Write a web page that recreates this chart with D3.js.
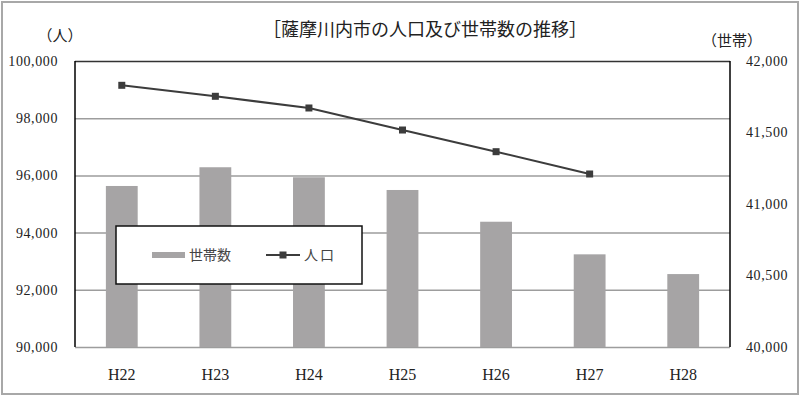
<!DOCTYPE html>
<html>
<head>
<meta charset="utf-8">
<script src="https://cdn.jsdelivr.net/npm/d3@7"></script>
<style>
  body { margin: 0; background: #fff; }
  svg { display: block; }
</style>
</head>
<body>
<div id="chart"></div>
<script>
// data
const categories = ["H22", "H23", "H24", "H25", "H26", "H27", "H28"];
const households = [41126, 41257, 41187, 41098, 40876, 40648, 40510]; // 世帯数 (right axis)
const population = [99150, 98766, 98357, 97587, 96829, 96049, null]; // 人口 (left axis)
const leftTicks = [90000, 92000, 94000, 96000, 98000, 100000];
const rightTicks = [40000, 40500, 41000, 41500, 42000];

const W = 800, H = 395;
const margin = { top: 61, right: 70, bottom: 48, left: 75 };
const numFont = "'Liberation Serif', 'DejaVu Serif', serif";
const jpFont = "'Noto Sans CJK JP', sans-serif";

const svg = d3.select("#chart").append("svg")
    .attr("width", W)
    .attr("height", H);

// outer frame
svg.append("rect")
    .attr("x", 2).attr("y", 2)
    .attr("width", W - 4).attr("height", H - 3)
    .attr("fill", "#fff")
    .attr("stroke", "#a8a8a8")
    .attr("stroke-width", 2);

const x = d3.scaleBand()
    .domain(categories)
    .range([margin.left, W - margin.right])
    .paddingInner(0.66)
    .paddingOuter(0.33);

const yLeft = d3.scaleLinear()
    .domain([90000, 100000])
    .range([H - margin.bottom, margin.top]);

const yRight = d3.scaleLinear()
    .domain([40000, 42000])
    .range([H - margin.bottom, margin.top]);

const fmt = d3.format(",");

// gridlines
const grid = svg.append("g")
    .attr("transform", `translate(${margin.left},0)`)
    .call(d3.axisLeft(yLeft).tickValues(leftTicks)
        .tickSize(-(W - margin.left - margin.right)).tickFormat(""));
grid.select(".domain").remove();
grid.selectAll("line").attr("stroke", "#9d9d9d").attr("stroke-width", 1.5);
grid.selectAll("line").filter(d => d === 100000).attr("stroke", "#333");

// bars
svg.append("g")
    .selectAll("rect")
    .data(households)
    .join("rect")
    .attr("x", (d, i) => x(categories[i]))
    .attr("y", d => yRight(d))
    .attr("width", x.bandwidth())
    .attr("height", d => yRight(40000) - yRight(d))
    .attr("fill", "#a6a4a5");

// side axis lines
svg.append("line")
    .attr("x1", margin.left).attr("x2", margin.left)
    .attr("y1", margin.top).attr("y2", H - margin.bottom)
    .attr("stroke", "#000").attr("stroke-width", 1.5);
svg.append("line")
    .attr("x1", W - margin.right).attr("x2", W - margin.right)
    .attr("y1", margin.top).attr("y2", H - margin.bottom)
    .attr("stroke", "#000").attr("stroke-width", 1.5);

// population line
const popPts = population.map((v, i) => ({ c: categories[i], v: v })).filter(d => d.v != null);
const cx = c => x(c) + x.bandwidth() / 2;

svg.append("path")
    .datum(popPts)
    .attr("fill", "none")
    .attr("stroke", "#3c3c3c")
    .attr("stroke-width", 2)
    .attr("d", d3.line().x(d => cx(d.c)).y(d => yLeft(d.v)));

svg.append("g")
    .selectAll("rect")
    .data(popPts)
    .join("rect")
    .attr("x", d => cx(d.c) - 3.5)
    .attr("y", d => yLeft(d.v) - 3.5)
    .attr("width", 7)
    .attr("height", 7)
    .attr("fill", "#3c3c3c");

// left axis labels
const la = svg.append("g")
    .attr("transform", `translate(${margin.left - 14},0)`)
    .call(d3.axisLeft(yLeft).tickValues(leftTicks).tickSize(0).tickFormat(fmt));
la.select(".domain").remove();
la.selectAll("text")
    .attr("font-family", numFont)
    .attr("font-size", 14)
    .attr("letter-spacing", 0.6)
    .attr("fill", "#222");

// right axis labels
const ra = svg.append("g")
    .attr("transform", `translate(${W - margin.right + 13},0)`)
    .call(d3.axisRight(yRight).tickValues(rightTicks).tickSize(0).tickFormat(fmt));
ra.select(".domain").remove();
ra.selectAll("text")
    .attr("font-family", numFont)
    .attr("font-size", 14)
    .attr("letter-spacing", 0.6)
    .attr("fill", "#222");

// category labels
const xa = svg.append("g")
    .attr("transform", `translate(0,${H - margin.bottom + 20})`)
    .call(d3.axisBottom(x).tickSize(0));
xa.select(".domain").remove();
xa.selectAll("text")
    .attr("font-family", numFont)
    .attr("font-size", 16)
    .attr("dy", "0.6em")
    .attr("fill", "#222");

// title and unit labels
svg.append("text")
    .attr("x", 425).attr("y", 36)
    .attr("text-anchor", "middle")
    .attr("font-family", jpFont)
    .attr("font-size", 18)
    .attr("fill", "#222")
    .text("［薩摩川内市の人口及び世帯数の推移］");

svg.append("text")
    .attr("x", 60).attr("y", 41)
    .attr("text-anchor", "middle")
    .attr("font-family", jpFont)
    .attr("font-size", 15)
    .attr("fill", "#222")
    .text("（人）");

svg.append("text")
    .attr("x", 732).attr("y", 46)
    .attr("text-anchor", "middle")
    .attr("font-family", jpFont)
    .attr("font-size", 15)
    .attr("fill", "#222")
    .text("（世帯）");

// legend
const lg = svg.append("g").attr("transform", "translate(116,226)");
lg.append("rect")
    .attr("width", 246).attr("height", 58)
    .attr("fill", "#fff")
    .attr("stroke", "#111")
    .attr("stroke-width", 1.5);
lg.append("rect")
    .attr("x", 36).attr("y", 26)
    .attr("width", 33).attr("height", 6)
    .attr("fill", "#a6a4a5");
lg.append("text")
    .attr("x", 73).attr("y", 34)
    .attr("font-family", jpFont)
    .attr("font-size", 14)
    .attr("fill", "#444")
    .text("世帯数");
lg.append("line")
    .attr("x1", 150).attr("x2", 184)
    .attr("y1", 29).attr("y2", 29)
    .attr("stroke", "#3c3c3c").attr("stroke-width", 2);
lg.append("rect")
    .attr("x", 163.5).attr("y", 25.5)
    .attr("width", 7).attr("height", 7)
    .attr("fill", "#3c3c3c");
lg.append("text")
    .attr("x", 188).attr("y", 34)
    .attr("font-family", jpFont)
    .attr("font-size", 14)
    .attr("letter-spacing", 2)
    .attr("fill", "#444")
    .text("人口");
</script>
</body>
</html>
